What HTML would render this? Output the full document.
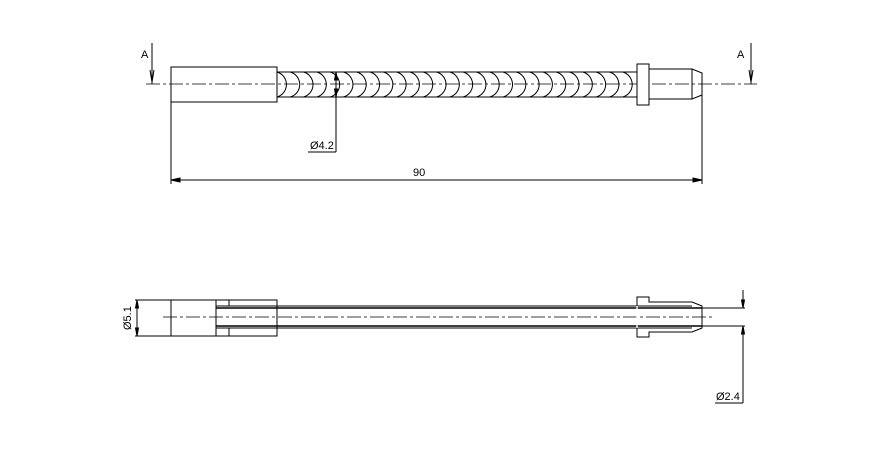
<!DOCTYPE html>
<html><head><style>body{margin:0;background:#fff}svg{display:block}text{font-family:"Liberation Sans",sans-serif;font-size:11px;fill:#000;stroke:none}</style></head><body>
<svg width="875" height="452" viewBox="0 0 875 452" xmlns="http://www.w3.org/2000/svg" fill="none" stroke="#000" stroke-width="1">
<line x1="146" y1="84" x2="757" y2="84" stroke-dasharray="14,3,3,3" stroke-width="0.8"/>
<rect x="171" y="67" width="106" height="35"/>
<line x1="277" y1="72" x2="637" y2="72"/>
<line x1="277" y1="97" x2="637" y2="97"/>
<path d="M277,72 A13 13 0 0 1 277,97 M290.3,72 A13 13 0 0 1 290.3,97 M303.6,72 A13 13 0 0 1 303.6,97 M316.9,72 A13 13 0 0 1 316.9,97 M330.2,72 A13 13 0 0 1 330.2,97 M343.5,72 A13 13 0 0 1 343.5,97 M356.8,72 A13 13 0 0 1 356.8,97 M370.1,72 A13 13 0 0 1 370.1,97 M383.4,72 A13 13 0 0 1 383.4,97 M396.7,72 A13 13 0 0 1 396.7,97 M410,72 A13 13 0 0 1 410,97 M423.3,72 A13 13 0 0 1 423.3,97 M436.6,72 A13 13 0 0 1 436.6,97 M449.9,72 A13 13 0 0 1 449.9,97 M463.2,72 A13 13 0 0 1 463.2,97 M476.5,72 A13 13 0 0 1 476.5,97 M489.8,72 A13 13 0 0 1 489.8,97 M503.1,72 A13 13 0 0 1 503.1,97 M516.4,72 A13 13 0 0 1 516.4,97 M529.7,72 A13 13 0 0 1 529.7,97 M543,72 A13 13 0 0 1 543,97 M556.3,72 A13 13 0 0 1 556.3,97 M569.6,72 A13 13 0 0 1 569.6,97 M582.9,72 A13 13 0 0 1 582.9,97 M596.2,72 A13 13 0 0 1 596.2,97 M609.5,72 A13 13 0 0 1 609.5,97 M622.8,72 A13 13 0 0 1 622.8,97"/>
<rect x="637" y="64" width="12" height="41" fill="#fff"/>
<path d="M649,69 H692 L702,73 V95 L692,99 H649 M692,69 V99"/>
<line x1="702" y1="95" x2="702" y2="184"/>
<line x1="171" y1="102" x2="171" y2="184"/>
<line x1="171" y1="180" x2="702" y2="180"/>
<path d="M171,180 l9,-2 v4z M702,180 l-9,-2 v4z" fill="#000"/>
<text x="413" y="176">90</text>
<line x1="336" y1="72" x2="336" y2="152"/>
<path d="M336,72 l-1.5,8 h3z M336,97 l-1.5,-8 h3z" fill="#000"/>
<line x1="308" y1="152" x2="336" y2="152"/>
<text x="310" y="149">Ø4.2</text>
<line x1="152" y1="43" x2="152" y2="84"/><path d="M150,70 L152,82 L154,70" />
<text x="141" y="58">A</text>
<line x1="751" y1="43" x2="751" y2="84"/><path d="M749,70 L751,82 L753,70"/>
<text x="737" y="58">A</text>
<line x1="163" y1="317" x2="712" y2="317" stroke-dasharray="14,3,3,3" stroke-width="0.8"/>
<rect x="171" y="300" width="106" height="36"/>
<path d="M216,300 V336 M216,306 H229 V300 M216,328 H229 V336"/>
<line x1="216" y1="306" x2="692" y2="306"/>
<line x1="216" y1="308" x2="702" y2="308" stroke-width="1.6"/>
<line x1="216" y1="326" x2="702" y2="326" stroke-width="1.6"/>
<line x1="216" y1="328" x2="692" y2="328"/>
<path d="M637,297 H649 V302 H692 L702,306 V328 L692,332 H649 V337 H637 Z" />
<line x1="637" y1="306" x2="637" y2="328" stroke="#fff" stroke-width="1.4"/>
<line x1="702" y1="308" x2="745" y2="308"/>
<line x1="702" y1="326" x2="745" y2="326"/>
<line x1="743" y1="290" x2="743" y2="308"/><path d="M743,308 l-1.5,-8 h3z" fill="#000"/>
<line x1="743" y1="326" x2="743" y2="403"/><path d="M743,326 l-1.5,8 h3z" fill="#000"/>
<line x1="715" y1="403" x2="743" y2="403"/>
<text x="716" y="400">Ø2.4</text>
<line x1="135" y1="300" x2="171" y2="300"/>
<line x1="135" y1="336" x2="171" y2="336"/>
<line x1="137" y1="300" x2="137" y2="336"/>
<path d="M137,300 l-1.5,8 h3z M137,336 l-1.5,-8 h3z" fill="#000"/>
<text transform="translate(131,330) rotate(-90)">Ø5.1</text>
</svg>
</body></html>
